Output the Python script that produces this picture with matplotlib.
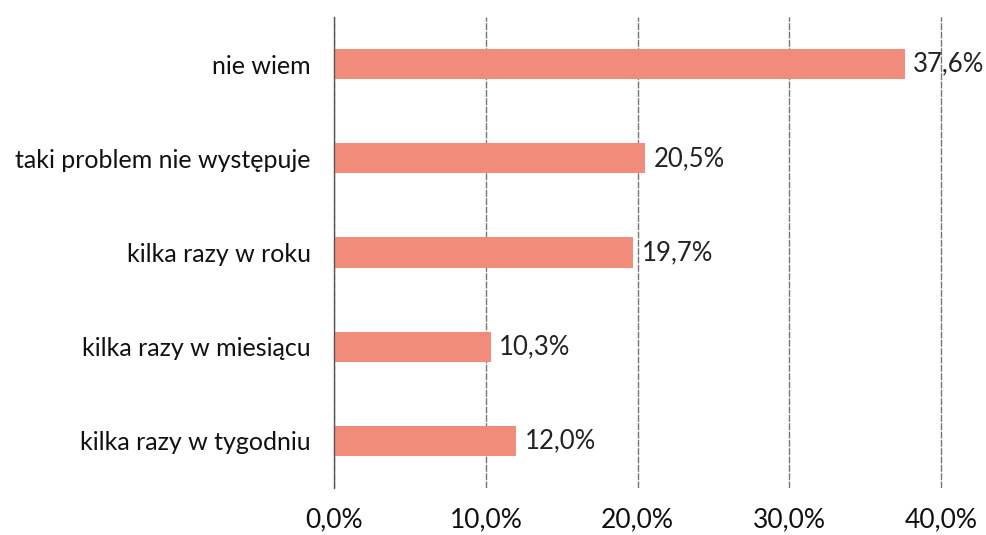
import matplotlib.pyplot as plt
from matplotlib.ticker import FuncFormatter

# dane
categories = ["nie wiem", "taki problem nie występuje", "kilka razy w roku",
              "kilka razy w miesiącu", "kilka razy w tygodniu"]
values = [37.6, 20.5, 19.7, 10.3, 12.0]
xticks = [0, 10, 20, 30, 40]

plt.rcParams['font.family'] = ['Lato', 'DejaVu Sans']

fig = plt.figure(figsize=(9.86, 5.35), dpi=100)
ax = fig.add_axes([0.339, 0.088, 0.617, 0.88])

y = list(range(len(categories)))
ax.barh(y, values, height=0.32, color='#F28C7A', zorder=3)

for yi, v in zip(y, values):
    ax.text(v + 0.55, yi, f"{v:.1f}%".replace('.', ','), va='center', ha='left',
            fontsize=18.5, color='#222222', zorder=4)

ax.set_yticks(y)
ax.set_yticklabels(categories, fontsize=18, color='#111111')
ax.set_ylim(4.5, -0.5)

ax.set_xlim(0, 40.1)
ax.set_xticks(xticks)
ax.xaxis.set_major_formatter(FuncFormatter(lambda v, p: f"{v:.1f}%".replace('.', ',')))
ax.tick_params(axis='x', labelsize=19, length=0, pad=14, colors='#111111')
ax.tick_params(axis='y', length=0, pad=17)

ax.grid(axis='x', color='#777777', linewidth=1, linestyle=(0, (5, 1)), zorder=0)
for s in ['top', 'right', 'bottom']:
    ax.spines[s].set_visible(False)
ax.spines['left'].set_color('#555555')
ax.spines['left'].set_linewidth(1)
ax.spines['left'].set_zorder(5)

fig.savefig("out.png", dpi=100)
